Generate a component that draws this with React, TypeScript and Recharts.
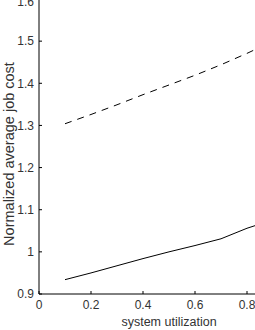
import { LineChart, Line, XAxis, YAxis, Label } from 'recharts';

// values
const utilization = [0.1, 0.2, 0.3, 0.4, 0.5, 0.6, 0.7, 0.8, 0.9];
const dashedCost = [1.304, 1.326, 1.349, 1.373, 1.396, 1.419, 1.444, 1.471, 1.5];
const solidCost = [0.934, 0.95, 0.967, 0.984, 1.0, 1.015, 1.031, 1.056, 1.076];

const xTicks = [0, 0.2, 0.4, 0.6, 0.8, 1];
const yTicks = [0.9, 1, 1.1, 1.2, 1.3, 1.4, 1.5, 1.6];

const data = utilization.map((u, i) => ({ u, dashed: dashedCost[i], solid: solidCost[i] }));

const font = '"Liberation Sans", Arial, sans-serif';
const tickStyle = { fontSize: 12, fill: '#333', fontFamily: font };

export default function App() {
  return (
    <div style={{ position: 'fixed', left: 0, top: 0, width: 255, height: 330, overflow: 'hidden', background: '#fff' }}>
      <div style={{ position: 'absolute', left: 0, top: -6 }}>
        <LineChart width={310} height={336} data={data} margin={{ top: 5, right: 11, left: 0, bottom: 0 }}>
          <XAxis
            dataKey="u"
            type="number"
            domain={[0, 1]}
            ticks={xTicks}
            height={36}
            tickSize={-3}
            tickMargin={9}
            tick={tickStyle}
            stroke="#000"
          >
            <Label
              value="system utilization"
              position="insideBottom"
              offset={4}
              style={{ fontSize: 12.5, fill: '#333', fontFamily: font }}
            />
          </XAxis>
          <XAxis
            xAxisId="top"
            orientation="top"
            dataKey="u"
            type="number"
            domain={[0, 1]}
            ticks={xTicks}
            height={0}
            tickSize={-3}
            tickFormatter={() => ''}
            stroke="#000"
          />
          <YAxis
            type="number"
            domain={[0.9, 1.6]}
            ticks={yTicks}
            width={39}
            tickSize={-3}
            tickMargin={8}
            tick={tickStyle}
            stroke="#000"
          >
            <Label
              content={() => (
                <text
                  transform="translate(14,160) rotate(-90)"
                  textAnchor="middle"
                  style={{ fontSize: 14.5, fill: '#333', fontFamily: font }}
                >
                  Normalized average job cost
                </text>
              )}
            />
          </YAxis>
          <Line
            type="linear"
            dataKey="dashed"
            stroke="#000"
            strokeWidth={1}
            strokeDasharray="7 6"
            dot={false}
            isAnimationActive={false}
          />
          <Line
            type="linear"
            dataKey="solid"
            stroke="#000"
            strokeWidth={1}
            dot={false}
            isAnimationActive={false}
          />
        </LineChart>
      </div>
    </div>
  );
}
